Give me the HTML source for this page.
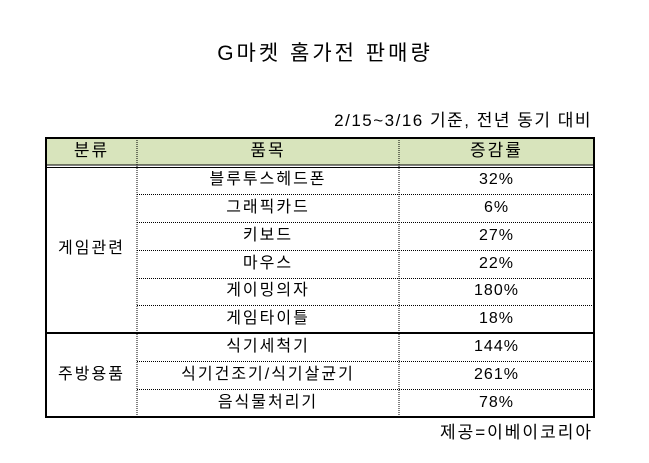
<!DOCTYPE html>
<html><head><meta charset="utf-8"><style>
body{margin:0;width:649px;height:463px;background:#fff;position:relative;overflow:hidden;font-family:"Liberation Sans","Noto Sans CJK KR","NanumGothic",sans-serif;color:#000}
.t{position:absolute;white-space:nowrap;font-size:16px;line-height:18px;font-weight:normal}
.c{text-align:center}
.k{letter-spacing:2px}
.n{letter-spacing:1px}
</style></head><body>
<div class="t" style="left:100px;width:450px;top:42px;font-size:21px;line-height:24px;text-align:center;letter-spacing:3px">G마켓 홈가전 판매량</div>
<div class="t" style="right:57px;top:111px;font-size:17px;line-height:20px;letter-spacing:1.5px">2/15~3/16 기준, 전년 동기 대비</div>
<svg style="position:absolute;left:0;top:0" width="649" height="463">
<rect x="46" y="138" width="548" height="27" fill="#d8e4bc"/>
<g stroke="#000" stroke-width="1" stroke-dasharray="1,1" fill="none">
<line x1="137" y1="138" x2="137" y2="417"/>
<line x1="399" y1="138" x2="399" y2="417"/>
<line x1="137" y1="194.5" x2="594" y2="194.5"/>
<line x1="137" y1="222.5" x2="594" y2="222.5"/>
<line x1="137" y1="250.5" x2="594" y2="250.5"/>
<line x1="137" y1="278.5" x2="594" y2="278.5"/>
<line x1="137" y1="305.5" x2="594" y2="305.5"/>
<line x1="137" y1="361.5" x2="594" y2="361.5"/>
<line x1="137" y1="389.5" x2="594" y2="389.5"/>
</g>
<g stroke="#000" fill="none">
<rect x="46" y="138" width="548" height="279" stroke-width="2"/>
<line x1="46" y1="165" x2="594" y2="165" stroke-width="1"/>
<line x1="46" y1="167.5" x2="594" y2="167.5" stroke-width="1"/>
<line x1="46" y1="333" x2="594" y2="333" stroke-width="2"/>
</g>
</svg>
<div class="t c k" style="left:46px;width:91px;top:142px;font-size:17px">분류</div>
<div class="t c k" style="left:137px;width:262px;top:142px;font-size:17px">품목</div>
<div class="t c k" style="left:399px;width:195px;top:142px;font-size:17px">증감률</div>
<div class="t c k" style="left:46px;width:91px;top:240px">게임관련</div>
<div class="t c k" style="left:46px;width:91px;top:366px">주방용품</div>
<div class="t c k" style="left:137px;width:262px;top:171px">블루투스헤드폰</div>
<div class="t c k" style="left:137px;width:262px;top:199px">그래픽카드</div>
<div class="t c k" style="left:137px;width:262px;top:227px">키보드</div>
<div class="t c k" style="left:137px;width:262px;top:255px">마우스</div>
<div class="t c k" style="left:137px;width:262px;top:282px">게이밍의자</div>
<div class="t c k" style="left:137px;width:262px;top:310px">게임타이틀</div>
<div class="t c k" style="left:137px;width:262px;top:338px">식기세척기</div>
<div class="t c k" style="left:137px;width:262px;top:366px">식기건조기/식기살균기</div>
<div class="t c k" style="left:137px;width:262px;top:394px">음식물처리기</div>
<div class="t c n" style="left:399px;width:195px;top:171px">32%</div>
<div class="t c n" style="left:399px;width:195px;top:199px">6%</div>
<div class="t c n" style="left:399px;width:195px;top:227px">27%</div>
<div class="t c n" style="left:399px;width:195px;top:255px">22%</div>
<div class="t c n" style="left:399px;width:195px;top:282px">180%</div>
<div class="t c n" style="left:399px;width:195px;top:310px">18%</div>
<div class="t c n" style="left:399px;width:195px;top:338px">144%</div>
<div class="t c n" style="left:399px;width:195px;top:366px">261%</div>
<div class="t c n" style="left:399px;width:195px;top:394px">78%</div>
<div class="t" style="right:56px;top:423px;font-size:17px;line-height:20px;letter-spacing:2px">제공=이베이코리아</div>
</body></html>
